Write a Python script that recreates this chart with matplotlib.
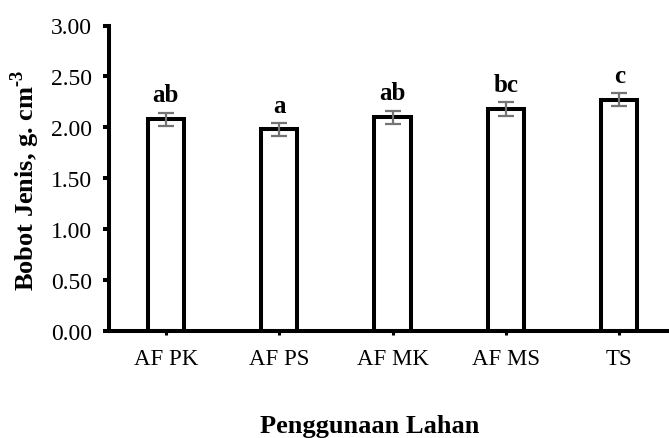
"""Bulk density by land use, bar chart with error bars and significance letters."""

import matplotlib
matplotlib.use("Agg")
import matplotlib.pyplot as plt
import numpy as np

categories = ["AF PK", "AF PS", "AF MK", "AF MS", "TS"]
bulk_density = [2.08, 1.98, 2.10, 2.18, 2.27]
std_err = [0.065, 0.065, 0.065, 0.065, 0.065]
letters = ["ab", "a", "ab", "bc", "c"]
y_ticks = [0.0, 0.5, 1.0, 1.5, 2.0, 2.5, 3.0]

plt.rcParams.update({
    "font.family": ["Liberation Serif", "DejaVu Serif"],
    "mathtext.fontset": "custom",
    "mathtext.rm": "Liberation Serif:bold",
    "mathtext.bf": "Liberation Serif:bold",
})

W, H = 669, 439
fig = plt.figure(figsize=(W / 100, H / 100), dpi=100)
left, right = 109, 676
ax = fig.add_axes([left / W, 1 - 332 / H, (right - left) / W, (332 - 26.5) / H])

x = np.arange(len(categories))
ax.bar(x, bulk_density, width=0.32, color="white", edgecolor="black",
       linewidth=2.9, zorder=2)
ax.errorbar(x, bulk_density, yerr=std_err, fmt="none", ecolor="#747474",
            elinewidth=1.6, capsize=5.5, capthick=1.6, zorder=3)

for xi, val, err, lab in zip(x, bulk_density, std_err, letters):
    ax.text(xi, val + err + 0.06, lab, ha="center", va="bottom",
            fontsize=18, fontweight="bold")

ax.set_xlim(-0.5, 4.5)
ax.set_ylim(0, 3.0)
ax.set_yticks(y_ticks)
ax.set_yticklabels([f"{v:.2f}" for v in y_ticks], fontsize=17)
ax.set_xticks(x)
ax.set_xticklabels(categories, fontsize=16.5)

for side in ("top", "right"):
    ax.spines[side].set_visible(False)
for side in ("left", "bottom"):
    ax.spines[side].set_linewidth(2.9)
ax.tick_params(axis="y", direction="out", length=4.5, width=2.9, pad=8)
ax.tick_params(axis="x", direction="out", length=3, width=2.2, pad=9)

fig.text(25 / W, 1 - 180 / H, r"Bobot Jenis, g. cm$^{\text{-3}}$",
         rotation=90, ha="center", va="center", fontsize=19,
         fontweight="bold")
fig.text(370 / W, 1 - 427 / H, "Penggunaan Lahan", ha="center",
         va="center", fontsize=19, fontweight="bold")

fig.savefig("out.png", dpi=100)
